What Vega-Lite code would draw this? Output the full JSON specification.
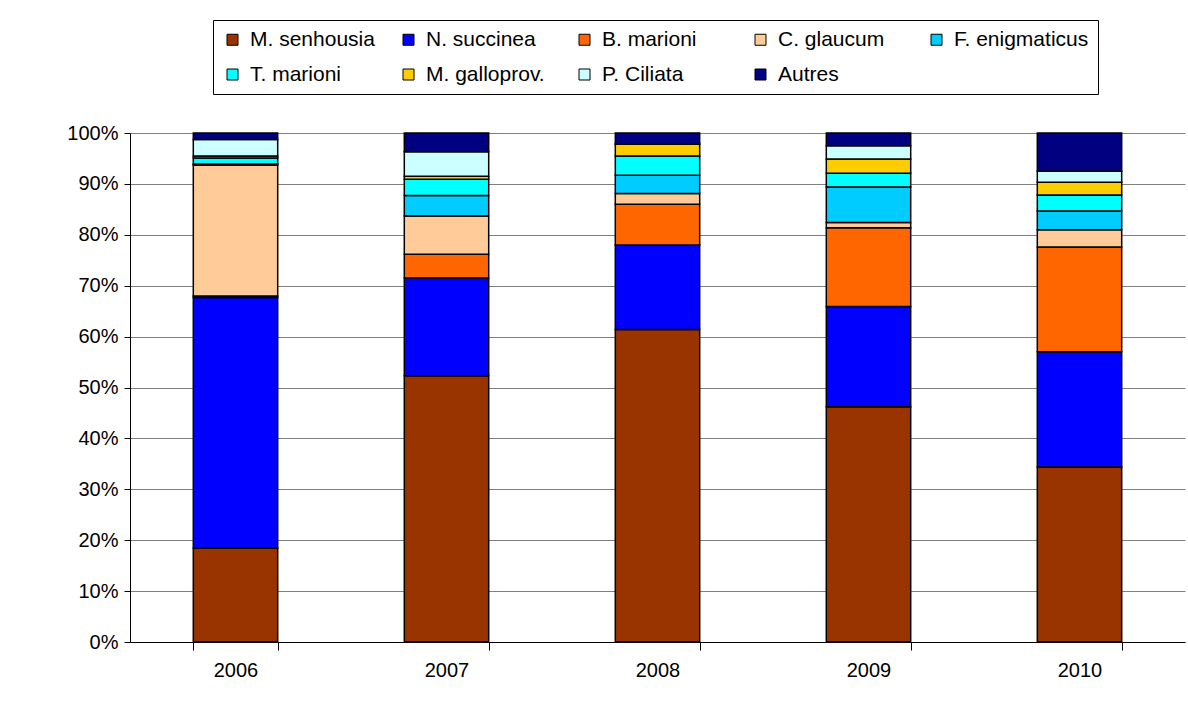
{
  "$schema": "https://vega.github.io/schema/vega-lite/v6.json",
  "width": 1055,
  "height": 509,
  "autosize": {"type": "none"},
  "padding": {"left": 130, "top": 133, "right": 3, "bottom": 62},
  "background": "white",
  "config": {"view": {"stroke": null}, "font": "Liberation Sans"},
  "data": {
    "values": [
      {"year": "2006", "species": "M. senhousia", "rank": 1, "pct": 18.4},
      {"year": "2006", "species": "N. succinea", "rank": 2, "pct": 49.3},
      {"year": "2006", "species": "B. marioni", "rank": 3, "pct": 0.3},
      {"year": "2006", "species": "C. glaucum", "rank": 4, "pct": 25.7},
      {"year": "2006", "species": "F. enigmaticus", "rank": 5, "pct": 0.2},
      {"year": "2006", "species": "T. marioni", "rank": 6, "pct": 1.2},
      {"year": "2006", "species": "M. galloprov.", "rank": 7, "pct": 0.4},
      {"year": "2006", "species": "P. Ciliata", "rank": 8, "pct": 3.2},
      {"year": "2006", "species": "Autres", "rank": 9, "pct": 1.3},
      {"year": "2007", "species": "M. senhousia", "rank": 1, "pct": 52.3},
      {"year": "2007", "species": "N. succinea", "rank": 2, "pct": 19.2},
      {"year": "2007", "species": "B. marioni", "rank": 3, "pct": 4.7},
      {"year": "2007", "species": "C. glaucum", "rank": 4, "pct": 7.5},
      {"year": "2007", "species": "F. enigmaticus", "rank": 5, "pct": 4.0},
      {"year": "2007", "species": "T. marioni", "rank": 6, "pct": 3.2},
      {"year": "2007", "species": "M. galloprov.", "rank": 7, "pct": 0.6},
      {"year": "2007", "species": "P. Ciliata", "rank": 8, "pct": 4.8},
      {"year": "2007", "species": "Autres", "rank": 9, "pct": 3.7},
      {"year": "2008", "species": "M. senhousia", "rank": 1, "pct": 61.4},
      {"year": "2008", "species": "N. succinea", "rank": 2, "pct": 16.6},
      {"year": "2008", "species": "B. marioni", "rank": 3, "pct": 8.0},
      {"year": "2008", "species": "C. glaucum", "rank": 4, "pct": 2.1},
      {"year": "2008", "species": "F. enigmaticus", "rank": 5, "pct": 3.6},
      {"year": "2008", "species": "T. marioni", "rank": 6, "pct": 3.8},
      {"year": "2008", "species": "M. galloprov.", "rank": 7, "pct": 2.3},
      {"year": "2008", "species": "P. Ciliata", "rank": 8, "pct": 0.1},
      {"year": "2008", "species": "Autres", "rank": 9, "pct": 2.1},
      {"year": "2009", "species": "M. senhousia", "rank": 1, "pct": 46.2},
      {"year": "2009", "species": "N. succinea", "rank": 2, "pct": 19.7},
      {"year": "2009", "species": "B. marioni", "rank": 3, "pct": 15.5},
      {"year": "2009", "species": "C. glaucum", "rank": 4, "pct": 1.0},
      {"year": "2009", "species": "F. enigmaticus", "rank": 5, "pct": 7.0},
      {"year": "2009", "species": "T. marioni", "rank": 6, "pct": 2.7},
      {"year": "2009", "species": "M. galloprov.", "rank": 7, "pct": 2.8},
      {"year": "2009", "species": "P. Ciliata", "rank": 8, "pct": 2.6},
      {"year": "2009", "species": "Autres", "rank": 9, "pct": 2.5},
      {"year": "2010", "species": "M. senhousia", "rank": 1, "pct": 34.4},
      {"year": "2010", "species": "N. succinea", "rank": 2, "pct": 22.6},
      {"year": "2010", "species": "B. marioni", "rank": 3, "pct": 20.6},
      {"year": "2010", "species": "C. glaucum", "rank": 4, "pct": 3.4},
      {"year": "2010", "species": "F. enigmaticus", "rank": 5, "pct": 3.7},
      {"year": "2010", "species": "T. marioni", "rank": 6, "pct": 3.1},
      {"year": "2010", "species": "M. galloprov.", "rank": 7, "pct": 2.5},
      {"year": "2010", "species": "P. Ciliata", "rank": 8, "pct": 2.2},
      {"year": "2010", "species": "Autres", "rank": 9, "pct": 7.5}
    ]
  },
  "mark": {"type": "bar", "stroke": "black", "strokeWidth": 1.5},
  "encoding": {
    "x": {
      "field": "year",
      "type": "nominal",
      "scale": {"paddingInner": 0.6, "paddingOuter": 0.3},
      "axis": {
        "title": null,
        "labelAngle": 0,
        "tickBand": "extent",
        "tickSize": 8,
        "tickColor": "black",
        "domainColor": "black",
        "labelFontSize": 20,
        "labelPadding": 10,
        "labelColor": "black",
        "grid": false
      }
    },
    "y": {
      "field": "pct",
      "type": "quantitative",
      "stack": "normalize",
      "scale": {"domain": [0, 1]},
      "axis": {
        "title": null,
        "values": [0, 0.1, 0.2, 0.3, 0.4, 0.5, 0.6, 0.7, 0.8, 0.9, 1],
        "format": ".0%",
        "grid": true,
        "gridColor": "#808080",
        "gridWidth": 1,
        "domainColor": "black",
        "tickColor": "black",
        "tickSize": 6,
        "labelFontSize": 20,
        "labelColor": "black",
        "labelPadding": 6
      }
    },
    "color": {
      "field": "species",
      "type": "nominal",
      "sort": ["M. senhousia", "N. succinea", "B. marioni", "C. glaucum", "F. enigmaticus", "T. marioni", "M. galloprov.", "P. Ciliata", "Autres"],
      "scale": {
        "domain": ["M. senhousia", "N. succinea", "B. marioni", "C. glaucum", "F. enigmaticus", "T. marioni", "M. galloprov.", "P. Ciliata", "Autres"],
        "range": ["#993300", "#0000FF", "#FF6600", "#FFCC99", "#00CCFF", "#00FFFF", "#FFCC00", "#CCFFFF", "#000080"]
      },
      "legend": {
        "orient": "none",
        "legendX": 83,
        "legendY": -113,
        "direction": "horizontal",
        "columns": 5,
        "title": null,
        "symbolType": "square",
        "symbolSize": 121,
        "symbolStrokeColor": "black",
        "symbolStrokeWidth": 1,
        "symbolOpacity": 1,
        "labelFontSize": 21,
        "labelColor": "black",
        "labelOffset": 7,
        "labelLimit": 300,
        "gridAlign": "all",
        "columnPadding": 13,
        "rowPadding": 13,
        "padding": 9,
        "strokeColor": "black",
        "fillColor": "white"
      }
    },
    "order": {"field": "rank", "type": "quantitative"}
  }
}
